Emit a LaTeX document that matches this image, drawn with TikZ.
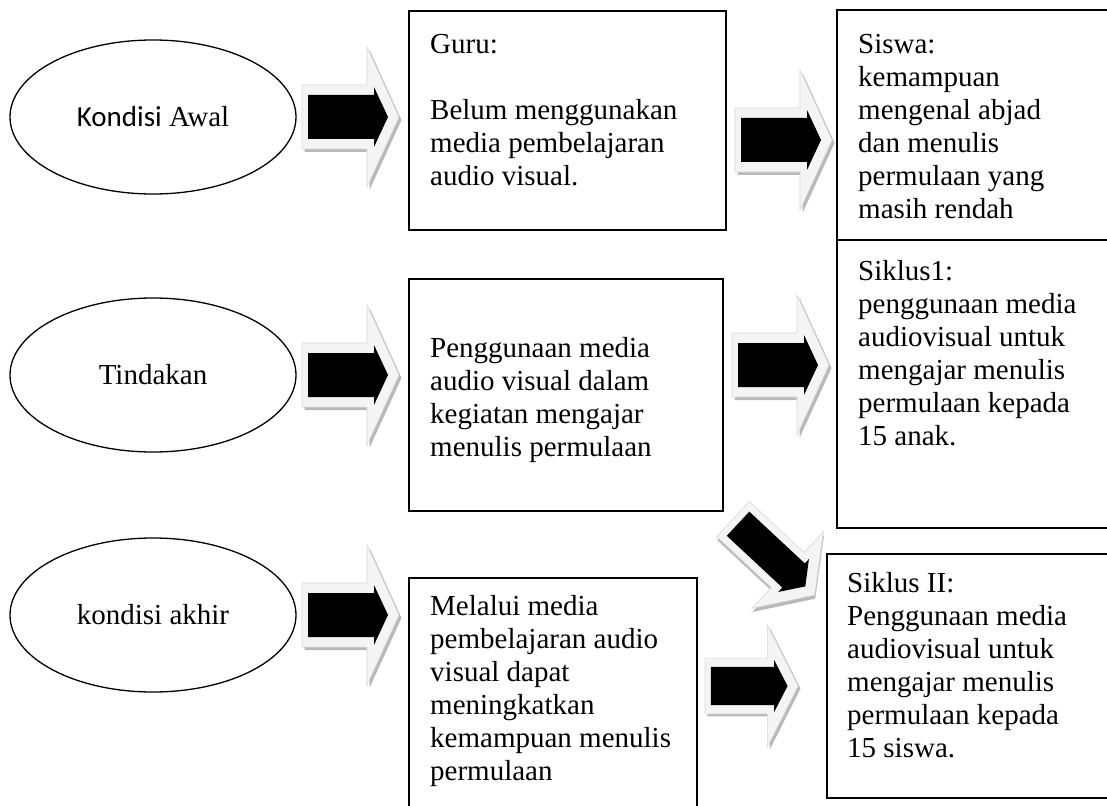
\documentclass[tikz,border=0pt]{standalone}
\usepackage{fontspec}
\setmainfont{Liberation Serif}
\newfontfamily\calib{Carlito}
\usetikzlibrary{shapes.geometric}
\tikzset{
  box/.style={draw, line width=1.7pt, inner sep=0pt, anchor=north west},
  txt/.style={anchor=north west, inner sep=0pt, align=left, font=\fontsize{29}{33}\selectfont},
  oval/.style={draw, ellipse, line width=1.3pt, minimum width=286pt, minimum height=154pt, inner sep=0pt, font=\fontsize{29}{33}\selectfont},
  blockarrow/.pic={
    \fill[gray!55] (2.5,-29) -- (67.5,-29) -- (67.5,-67) -- (99.5,3) -- (67.5,73) -- (67.5,35) -- (2.5,35) -- cycle;
    \filldraw[fill=gray!9, draw=gray!30, line width=0.6pt] (0,-32) -- (65,-32) -- (65,-70) -- (97,0) -- (65,70) -- (65,32) -- (0,32) -- cycle;
    \fill[black] (6,-22) -- (72,-22) -- (72,-30) -- (86,0) -- (72,30) -- (72,22) -- (6,22) -- cycle;
  }
}
\begin{document}
\begin{tikzpicture}[x=1pt,y=-1pt]
\useasboundingbox (0,0) rectangle (1107,805);
\fill[white] (0,0) rectangle (1107,805);

% ellipses
\node[oval] (e1) at (153,117) {{\calib Kondisi} Awal};
\node[oval] (e2) at (153,375) {Tindakan};
\node[oval] (e3) at (153,615) {kondisi akhir};

% boxes
\node[box, minimum width=317pt, minimum height=219pt] (bGuru) at (408,10) {};
\node[box, minimum width=290pt, minimum height=230pt] (bSiswa) at (836,9) {};
\node[box, minimum width=290pt, minimum height=288pt] (bSik1) at (836,239) {};
\node[box, minimum width=314pt, minimum height=232pt] (bTind) at (408,278) {};
\node[box, minimum width=300pt, minimum height=244pt] (bSik2) at (826,553) {};
\node[box, minimum width=288pt, minimum height=240pt] (bMel) at (408,577) {};

% texts
\node[txt] (tGuru) at (430,31) {\rule{0pt}{22pt}Guru:\\[33pt]Belum menggunakan\\media pembelajaran\\audio visual.};
\node[txt] (tSiswa) at (858,31) {\rule{0pt}{22pt}Siswa:\\kemampuan\\mengenal abjad\\dan menulis\\permulaan yang\\masih rendah};
\node[txt] (tSik1) at (858,258) {\rule{0pt}{22pt}Siklus1:\\penggunaan media\\audiovisual untuk\\mengajar menulis\\permulaan kepada\\15 anak.};
\node[txt] (tTind) at (430,335) {\rule{0pt}{22pt}Penggunaan media\\audio visual dalam\\kegiatan mengajar\\menulis permulaan};
\node[txt] (tSik2) at (847,570) {\rule{0pt}{22pt}Siklus II:\\Penggunaan media\\audiovisual untuk\\mengajar menulis\\permulaan kepada\\15 siswa.};
\node[txt] (tMel) at (430,593) {\rule{0pt}{22pt}Melalui media\\pembelajaran audio\\visual dapat\\meningkatkan\\kemampuan menulis\\permulaan};

% block arrows
\pic (a1) at (302,117) {blockarrow};
\pic (a2) at (735,140) {blockarrow};
\pic (a3) at (302,375) {blockarrow};
\pic (a4) at (732,365) {blockarrow};
\pic[rotate=-43, xscale=1.15, yscale=0.75] (a5) at (733,519) {blockarrow};
\pic[xscale=0.96, yscale=0.87] (a6) at (705,686) {blockarrow};
\pic (a7) at (302,615) {blockarrow};
\end{tikzpicture}
\end{document}
